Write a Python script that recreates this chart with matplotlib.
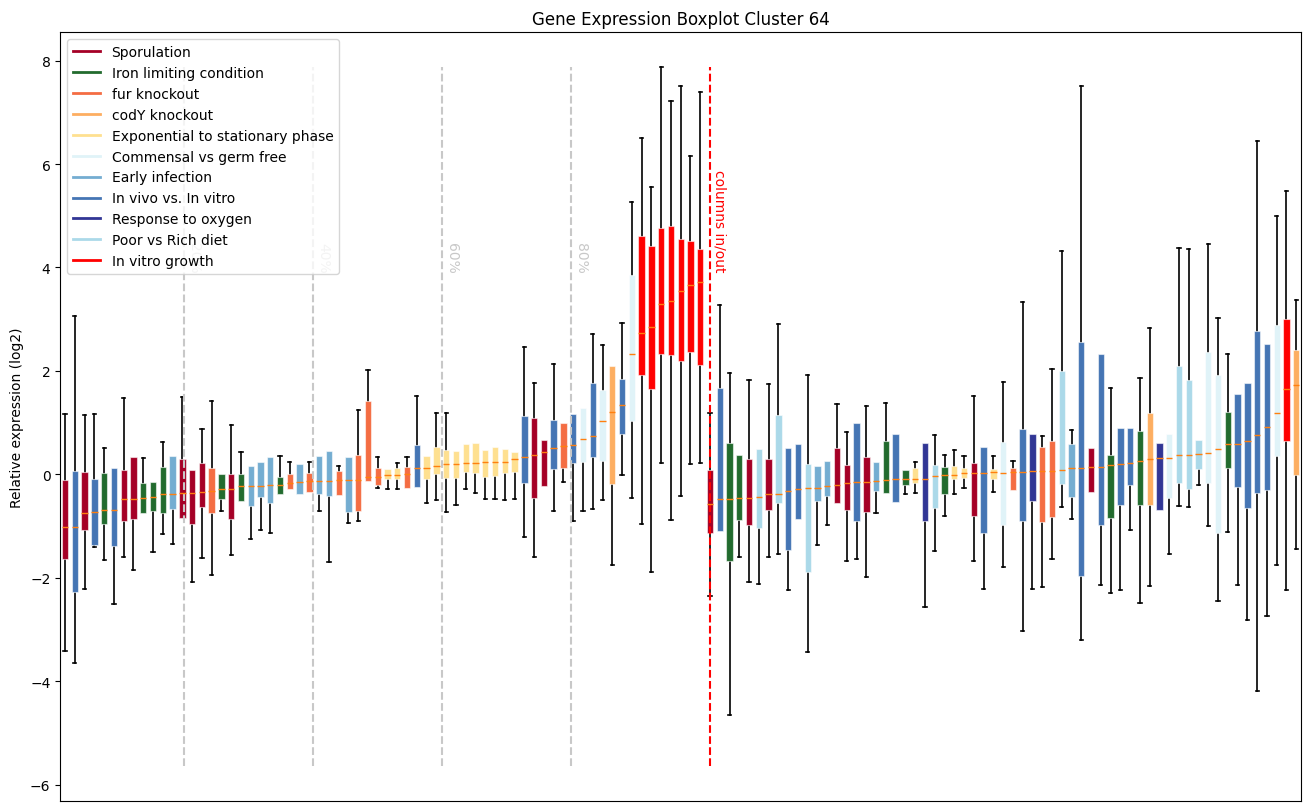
import matplotlib
matplotlib.use("Agg")
import matplotlib.pyplot as plt
from matplotlib.lines import Line2D

conditions = ["Sporulation", "Iron limiting condition", "fur knockout", "codY knockout",
              "Exponential to stationary phase", "Commensal vs germ free", "Early infection",
              "In vivo vs. In vitro", "Response to oxygen", "Poor vs Rich diet", "In vitro growth"]
condition_colors = ["#a50026", "#226b2e", "#f46d43", "#fdae61", "#fee090", "#e0f3f8",
                    "#74add1", "#4575b4", "#313695", "#abd9e9", "#ff0000"]

# condition of each column, left block (in) then right block (out)
column_condition = [
    0, 7, 0, 7, 1, 7, 0, 0, 1, 1, 1, 6, 0, 0, 0, 2, 1, 0, 1, 6, 6, 6, 1, 2, 6, 2, 6, 6, 2, 6,
    2, 2, 2, 4, 4, 2, 7, 4, 4, 4, 4, 4, 4, 4, 4, 4, 4, 7, 0, 0, 7, 2, 7, 5, 7, 5, 3, 7, 5, 10,
    10, 10, 10, 10, 10, 10,
    0, 7, 1, 1, 0, 9, 0, 9, 7, 7, 9, 6, 6, 0, 0, 7, 0, 6, 1, 7, 1, 4, 8, 9, 1, 4, 4, 0, 7, 4,
    5, 2, 7, 8, 2, 2, 9, 6, 7, 0, 7, 1, 7, 7, 1, 3, 8, 5, 9, 9, 9, 5, 5, 1, 7, 7, 7, 7, 5, 10, 3,
]
n_in = 66

whislo = [
    -3.42, -3.65, -2.22, -1.40, -1.65, -2.51, -1.60, -1.85, -0.74, -1.49, -1.16, -1.35, -0.85, -2.08, -1.62,
    -1.95, -0.70, -1.56, -0.52, -1.24, -1.08, -1.14, -0.38, -0.29, -0.37, -0.33, -0.70, -1.70, -0.40, -0.94,
    -0.89, -0.13, -0.27, -0.28, -0.29, -0.27, -0.25, -0.55, -0.49, -0.72, -0.59, -0.28, -0.35, -0.47, -0.47,
    -0.49, -0.47, -1.21, -1.60, -0.23, -0.70, -0.14, -0.89, -0.70, -0.66, -0.49, -1.74, -0.01, -0.45, -0.96,
    -1.89, 0.22, -0.88, -0.41, 0.20, 0.23,
    -2.35, -1.10, -4.64, -1.60, -2.08, -2.12, -1.60, -1.54, -2.24, -0.87, -3.43, -1.37, -0.97, -0.56, -1.67,
    -1.63, -1.99, -0.74, -0.35, -0.54, -0.37, -0.35, -2.57, -1.47, -0.81, -0.37, -0.26, -1.67, -2.22, -0.33,
    -1.78, -0.30, -3.02, -2.22, -2.18, -1.64, -0.62, -0.87, -3.20, -0.34, -2.14, -2.29, -2.24, -1.08, -2.48,
    -2.15, -0.69, -1.53, -0.60, -0.63, -0.20, -0.99, -2.45, -1.12, -2.14, -2.81, -4.18, -2.74, -1.74, -2.24,
    -1.44,
]
q1 = [
    -1.63, -2.28, -1.07, -1.36, -0.96, -1.39, -0.90, -0.87, -0.74, -0.71, -0.74, -0.67, -0.85, -0.96, -0.63,
    -0.74, -0.47, -0.86, -0.52, -0.60, -0.44, -0.56, -0.38, -0.29, -0.37, -0.33, -0.38, -0.42, -0.40, -0.73,
    -0.71, -0.13, -0.21, -0.08, -0.09, -0.27, -0.25, -0.09, 0.01, -0.06, -0.06, 0.04, 0.02, -0.04, -0.02,
    0.02, 0.04, -0.17, -0.46, -0.23, 0.10, 0.13, 0.22, 0.24, 0.33, 0.26, -0.19, 0.78, 1.03, 1.93,
    1.66, 2.33, 2.30, 2.20, 2.37, 2.12,
    -1.13, -1.10, -1.67, -0.88, -0.97, -1.03, -0.69, -0.55, -1.46, -0.87, -1.88, -0.52, -0.42, -0.56, -0.69,
    -0.90, -0.73, -0.32, -0.35, -0.54, -0.21, -0.16, -0.90, -0.65, -0.38, -0.09, -0.07, -0.80, -1.13, -0.08,
    -0.97, -0.30, -0.89, -0.51, -0.91, -0.82, -0.19, -0.44, -1.97, -0.34, -0.97, -0.84, -0.59, -0.21, -0.59,
    -0.59, -0.69, -0.46, -0.17, -0.28, 0.10, -0.17, -1.13, 0.12, -0.24, -0.65, -0.35, -0.30, 0.35, 0.64,
    -0.01,
]
median = [
    -1.02, -1.02, -0.74, -0.72, -0.68, -0.68, -0.48, -0.48, -0.45, -0.43, -0.37, -0.37, -0.35, -0.35, -0.33,
    -0.31, -0.28, -0.28, -0.22, -0.22, -0.22, -0.20, -0.20, -0.16, -0.14, -0.12, -0.12, -0.12, -0.10, -0.10,
    -0.10, -0.05, -0.05, -0.01, -0.01, 0.01, 0.13, 0.13, 0.17, 0.21, 0.21, 0.23, 0.23, 0.25, 0.25,
    0.25, 0.30, 0.34, 0.38, 0.44, 0.51, 0.55, 0.57, 0.69, 0.74, 1.03, 1.21, 1.34, 2.32, 2.73,
    2.85, 3.30, 3.36, 3.55, 3.67, 3.72,
    -0.58, -0.48, -0.48, -0.46, -0.46, -0.43, -0.37, -0.37, -0.31, -0.29, -0.26, -0.26, -0.22, -0.20, -0.16,
    -0.14, -0.14, -0.12, -0.10, -0.08, -0.08, -0.08, -0.08, -0.03, -0.01, -0.01, 0.02, 0.02, 0.03, 0.04,
    0.03, 0.05, 0.05, 0.07, 0.07, 0.07, 0.09, 0.12, 0.12, 0.15, 0.15, 0.19, 0.21, 0.23, 0.26,
    0.30, 0.32, 0.32, 0.37, 0.38, 0.40, 0.42, 0.49, 0.58, 0.58, 0.65, 0.76, 0.92, 1.19, 1.65,
    1.72,
]
q3 = [
    -0.11, 0.06, 0.04, -0.09, 0.02, 0.13, 0.08, 0.33, -0.17, -0.15, 0.15, 0.35, 0.29, 0.08, 0.23,
    0.13, 0.00, 0.00, 0.00, 0.16, 0.24, 0.33, -0.04, 0.00, 0.20, 0.02, 0.35, 0.45, 0.06, 0.33,
    0.37, 1.42, 0.13, 0.10, 0.13, 0.15, 0.56, 0.35, 0.54, 0.48, 0.45, 0.59, 0.61, 0.47, 0.53,
    0.49, 0.44, 1.13, 1.10, 0.67, 1.06, 0.99, 1.16, 1.29, 1.76, 1.63, 2.10, 1.85, 3.85, 4.61,
    4.42, 4.77, 4.81, 4.56, 4.52, 4.36,
    0.08, 1.68, 0.60, 0.37, 0.29, 0.49, 0.29, 1.14, 0.51, 0.59, 0.21, 0.16, 0.26, 0.52, 0.19,
    0.99, 0.33, 0.24, 0.65, 0.79, 0.08, 0.12, 0.60, 0.19, 0.15, 0.17, 0.13, 0.23, 0.53, 0.11,
    0.62, 0.13, 0.88, 0.78, 0.54, 0.65, 1.99, 0.58, 2.56, 0.51, 2.33, 0.37, 0.90, 0.90, 0.84,
    1.19, 0.60, 0.78, 2.10, 1.83, 0.66, 2.37, 1.92, 1.21, 1.56, 1.77, 2.77, 2.53, 2.88, 3.00,
    2.40,
]
whishi = [
    1.17, 3.07, 1.14, 1.17, 0.52, 0.13, 1.48, 0.33, 0.31, -0.15, 0.63, 0.35, 1.50, 0.08, 0.88,
    1.42, 0.00, 0.96, 0.44, 0.16, 0.24, 0.33, 0.36, 0.25, 0.20, 0.25, 0.35, 0.45, 0.17, 0.33,
    1.25, 2.02, 0.34, 0.10, 0.23, 0.33, 1.52, 0.35, 1.19, 1.19, 0.45, 0.59, 0.61, 0.47, 0.53,
    0.49, 0.44, 2.46, 1.76, 0.67, 2.13, 0.99, 1.16, 1.29, 2.71, 2.50, 2.10, 2.92, 5.26, 6.50,
    5.55, 7.87, 7.21, 7.50, 6.16, 7.40,
    1.19, 3.28, 1.96, 0.37, 1.83, 0.49, 1.75, 2.91, 0.51, 0.59, 1.92, 0.16, 0.26, 1.37, 0.83,
    0.99, 1.33, 0.24, 1.38, 0.79, 0.08, 0.25, 0.60, 0.77, 0.38, 0.47, 0.36, 1.52, 0.53, 0.36,
    1.79, 0.26, 3.33, 0.78, 0.74, 2.04, 4.32, 0.85, 7.51, 0.51, 2.33, 1.67, 0.90, 0.90, 1.87,
    2.83, 0.60, 0.78, 4.38, 4.35, 0.66, 4.46, 3.02, 2.33, 1.56, 1.77, 6.44, 2.53, 4.99, 5.47,
    3.37,
]

stats = []
for lo, a, m, b, hi in zip(whislo, q1, median, q3, whishi):
    stats.append({"whislo": lo, "q1": a, "med": m, "q3": b, "whishi": hi, "fliers": []})

fig = plt.figure(figsize=(13.09, 8.12), dpi=100)
ax = fig.add_axes([0.046, 0.012, 0.948, 0.947])

bp = ax.bxp(stats, showfliers=False, patch_artist=True, widths=0.65, capwidths=0.33,
            whiskerprops=dict(color="black", linewidth=1.2, zorder=1.5),
            capprops=dict(color="black", linewidth=1.2, zorder=1.5),
            medianprops=dict(color="#ff7f0e", linewidth=1.0),
            boxprops=dict(linewidth=0.8))
for box, ci in zip(bp["boxes"], column_condition):
    box.set_facecolor(condition_colors[ci])
    box.set_edgecolor((1, 1, 1, 0.55))

# no cap where the whisker has zero length
for i, s in enumerate(stats):
    if s["whislo"] >= s["q1"]:
        bp["caps"][2 * i].set_visible(False)
    if s["whishi"] <= s["q3"]:
        bp["caps"][2 * i + 1].set_visible(False)

ymin = min(whislo) - 1
ymax = max(whishi)
for k in range(1, 5):
    xpos = n_in * 0.2 * k
    ax.vlines(xpos, ymin, ymax, colors="#c8c8c8", linestyles="--", linewidth=1.5)
    ax.text(xpos + 0.3, 4.5, "%d%%" % (20 * k), rotation=270, color="#c8c8c8",
            ha="left", va="top", fontsize=10)
ax.vlines(n_in + 1, ymin, ymax, colors="red", linestyles="--", linewidth=1.5)
ax.text(n_in + 1.3, 5.9, "columns in/out", rotation=270, color="red",
        ha="left", va="top", fontsize=10)

ax.set_xticks([])
ax.set_xlim(0.5, len(stats) + 0.5)
ax.set_ylim(ymin - 0.05 * (ymax - ymin), ymax + 0.05 * (ymax - ymin))
ax.set_ylabel("Relative expression (log2)")
ax.set_title("Gene Expression Boxplot Cluster 64")

handles = [Line2D([0], [0], color=c, linewidth=2) for c in condition_colors]
ax.legend(handles, conditions, loc="upper left")

fig.savefig("out.png", dpi=100)
